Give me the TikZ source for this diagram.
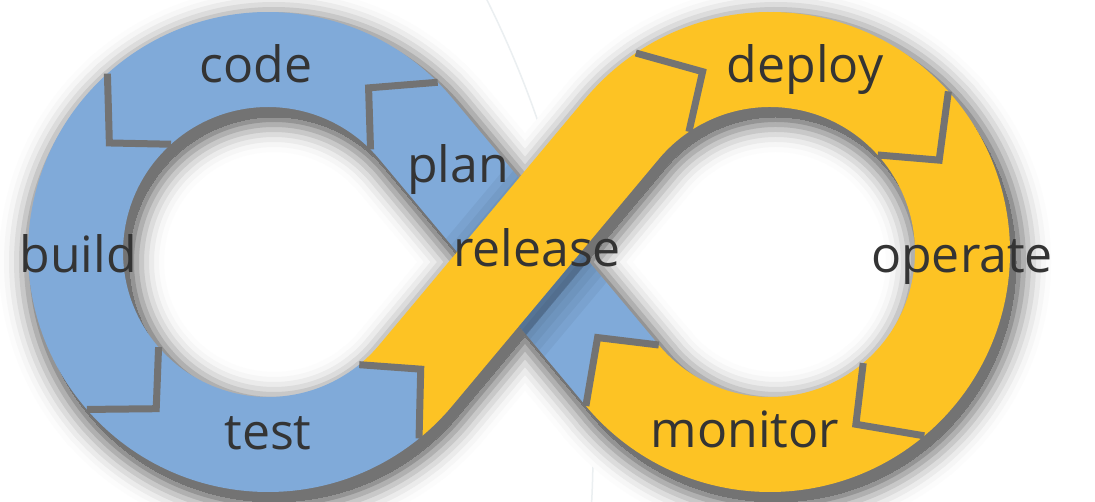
\documentclass[tikz,border=0pt]{standalone}
\usepackage{fontspec}
\setmainfont{Open Sans}
\usetikzlibrary{calc}
\definecolor{devblue}{RGB}{128,170,217}
\definecolor{devyellow}{RGB}{253,195,36}
\definecolor{devtext}{RGB}{52,52,52}
\tikzstyle{blueseg}=[fill=devblue]
\tikzstyle{yellowseg}=[fill=devyellow]
\tikzstyle{gap}=[draw=black!55,line width=7pt,line join=miter]
\tikzstyle{faint}=[draw=cyan!30!black!9,line width=1.5pt]
\tikzstyle{stage}=[text=devtext,inner sep=0pt,anchor=base,font=\fontsize{50}{60}\selectfont]
\def\Ro{240}
\def\Ri{145}
\def\Rm{192.5}
\def\cleft{268,250}
\def\cright{770,250}
% ring piece: centre, tail, notch, head, tip
\newcommand{\ringpiece}[5]{([shift={(#1)}]#2:\Ro) arc[start angle=#2,end angle=#4,radius=\Ro]
  -- ([shift={(#1)}]#5:\Rm) -- ([shift={(#1)}]#4:\Ri)
  arc[start angle=#4,end angle=#2,radius=\Ri]
  -- ([shift={(#1)}]#3:\Rm) -- cycle}
\def\codepath{\ringpiece{\cleft}{45}{58.5}{132}{145.5}}
\def\buildpath{\ringpiece{\cleft}{132}{145.5}{221}{234.5}}
\def\testpath{\ringpiece{\cleft}{221}{234.5}{309}{322.5}}
\def\deploypath{\ringpiece{\cright}{124}{110.5}{42}{28.5}}
\def\operatepath{\ringpiece{\cright}{42}{28.5}{-50}{-63.5}}
\def\monitorpath{\ringpiece{\cright}{-50}{-63.5}{-140.1}{-153.6}}
\def\releasepath{([shift={(\cleft)}]-51:\Ro) arc[start angle=-51,end angle=-39.9,radius=\Ro]
  -- ([shift={(\cright)}]140.1:\Ri) arc[start angle=140.1,end angle=124,radius=\Ri]
  -- ([shift={(\cright)}]110.5:\Rm) -- ([shift={(\cright)}]124:\Ro)
  arc[start angle=124,end angle=140.1,radius=\Ro]
  -- ([shift={(\cleft)}]-39.9:\Ri) arc[start angle=-39.9,end angle=-51,radius=\Ri]
  -- ([shift={(\cleft)}]-37.5:\Rm) -- cycle}
\def\planpath{([shift={(\cright)}]219.9:\Ro) -- ([shift={(\cright)}]206.4:\Rm)
  -- ([shift={(\cright)}]219.9:\Ri) -- ([shift={(\cleft)}]39.9:\Ro)
  arc[start angle=39.9,end angle=45,radius=\Ro]
  -- ([shift={(\cleft)}]58.5:\Rm) -- ([shift={(\cleft)}]45:\Ri)
  arc[start angle=45,end angle=39.9,radius=\Ri] -- cycle}

\begin{document}
\begin{tikzpicture}[x=1pt,y=1pt]
  \fill[white] (0,0) rectangle (1095,502);
  \useasboundingbox (0,0) rectangle (1095,502);
  \draw[faint] ([shift={(-415,52)}]-3:1008) arc[start angle=-3,end angle=27,radius=1008];

  % soft drop shadow, centres moved down right
  \begin{scope}
    \def\cleft{274,240}\def\cright{776,240}
    \foreach \w/\c in {70/1,60/3.4,50/7.7,40/13.7,30/21.5,20/31,10/42,0/55}{
      \foreach \p in {\codepath,\buildpath,\testpath,\planpath,\releasepath,\deploypath,\operatepath,\monitorpath}{
        \path[fill=black!\c,draw=black!\c,line width=\w pt,line join=round] \p;
      }
    }
  \end{scope}

  \path[blueseg] \codepath;
  \path[blueseg] \buildpath;
  \path[blueseg] \testpath;
  \path[blueseg] \planpath;

  % release band casts on plan
  \begin{scope}
    \clip \planpath;
    \def\cleft{274,240}\def\cright{776,240}
    \foreach \w in {56,40,26,12,0}{
      \path[fill=black,draw=black,opacity=0.045,line width=\w pt,line join=round] \releasepath;
    }
  \end{scope}

  \path[yellowseg] \releasepath;
  \path[yellowseg] \deploypath;
  \path[yellowseg] \operatepath;
  \path[yellowseg] \monitorpath;

  \foreach \c/\b/\t in {\cleft/45/58.5,\cleft/132/145.5,\cleft/221/234.5,\cleft/309/322.5,
      \cright/124/110.5,\cright/42/28.5,\cright/-50/-63.5,\cright/-140.1/-153.6}{
    \draw[gap] ([shift={(\c)}]\b:\Ro) -- ([shift={(\c)}]\t:\Rm) -- ([shift={(\c)}]\b:\Ri);
  }

  \node[stage] (code) at (256,419) {code};
  \node[stage] (plan) at (458,319) {plan};
  \node[stage] (build) at (78,229) {build};
  \node[stage] (test) at (268,52) {test};
  \node[stage] (release) at (537,235) {release};
  \node[stage] (deploy) at (805,419) {deploy};
  \node[stage] (operate) at (962,229) {operate};
  \node[stage] (monitor) at (745,54) {monitor};
\end{tikzpicture}
\end{document}
